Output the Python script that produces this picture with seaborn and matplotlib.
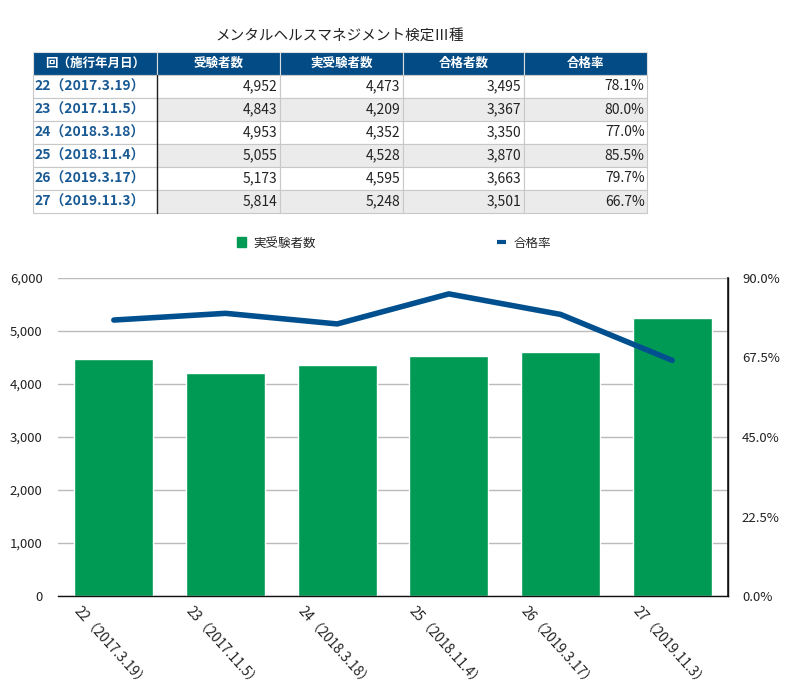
import numpy as np
import pandas as pd
import matplotlib
matplotlib.use("Agg")
import matplotlib.pyplot as plt
import matplotlib.transforms as mtransforms
from matplotlib.patches import Patch
from matplotlib.lines import Line2D
import seaborn as sns

# ---- data ----
title = "メンタルヘルスマネジメント検定Ⅲ種"
columns = ["回（施行年月日）", "受験者数", "実受験者数", "合格者数", "合格率"]
sessions = ["22（2017.3.19）", "23（2017.11.5）", "24（2018.3.18）",
            "25（2018.11.4）", "26（2019.3.17）", "27（2019.11.3）"]
xlabels = ["22（2017.3.19）", "23（2017.11.5）", "24（2018.3.18）",
           "25（2018.11.4）", "26（2019.3.17）", "27（2019.11.3）"]
applicants = [4952, 4843, 4953, 5055, 5173, 5814]
examinees = [4473, 4209, 4352, 4528, 4595, 5248]
passers = [3495, 3367, 3350, 3870, 3663, 3501]
pass_rate = [78.1, 80.0, 77.0, 85.5, 79.7, 66.7]
left_ticks = [0, 1000, 2000, 3000, 4000, 5000, 6000]
right_ticks = [0, 22.5, 45, 67.5, 90]
bar_name = "実受験者数"
line_name = "合格率"

GREEN = "#009A55"
BLUE = "#00508F"
HEADER = "#034B85"
GRAYROW = "#EBEBEB"

sns.set_theme(style="white")
plt.rcParams['font.family'] = ['Noto Sans CJK JP', 'DejaVu Sans']

W, H = 799, 697
fig = plt.figure(figsize=(W / 100, H / 100), dpi=100)

def px_axes(x0, y0, x1, y1):
    return fig.add_axes([x0 / W, 1 - y1 / H, (x1 - x0) / W, (y1 - y0) / H])

# ---- title ----
fig.text(340 / W, 1 - 36 / H, title, ha="center", va="center", fontsize=10.5, color="#222222")

# ---- table ----
tax = px_axes(33, 52, 647, 213)
tax.set_axis_off()
col_px = [124, 123, 123, 121, 123]
cell_text = []
for i in range(len(sessions)):
    cell_text.append([sessions[i], f"{applicants[i]:,}", f"{examinees[i]:,}",
                      f"{passers[i]:,}", f"{pass_rate[i]:.1f}%"])
tbl = tax.table(cellText=cell_text, colLabels=columns,
                colWidths=[c / sum(col_px) for c in col_px], bbox=[0, 0, 1, 1])
tbl.auto_set_font_size(False)
for (r, c), cell in tbl.get_celld().items():
    cell.set_linewidth(0.8)
    cell.set_edgecolor("#C8C8C8")
    txt = cell.get_text()
    txt.set_fontsize(10)
    if r == 0:
        cell.set_facecolor(HEADER)
        cell.set_edgecolor("#DDDDDD")
        txt.set_color("white")
        txt.set_fontweight("bold")
        txt.set_fontsize(9)
        cell._loc = "center"
        txt.set_ha("center")
    else:
        if c == 0:
            cell.set_facecolor("white")
            txt.set_color("#1A5A94")
            txt.set_fontweight("bold")
            txt.set_fontsize(10)
            cell._loc = "left"
            txt.set_ha("left")
            cell.PAD = 0.01
        else:
            cell.set_facecolor(GRAYROW if r % 2 == 0 else "white")
            txt.set_color("#222222")
            cell._loc = "right"
            txt.set_ha("right")
            cell.PAD = 0.02
# dark separator after first column
x_sep = col_px[0] / sum(col_px)
tax.plot([x_sep, x_sep], [0, 6 / 7], color="#222222", lw=1.0, transform=tax.transAxes, clip_on=False)

# ---- chart ----
ax = px_axes(58, 278, 728, 596)
df = pd.DataFrame({"回": xlabels, bar_name: examinees})
sns.barplot(data=df, x="回", y=bar_name, color=GREEN, saturation=1, width=0.71, ax=ax, zorder=2)
ax.set_ylim(0, 6000)
ax.set_yticks(left_ticks)
ax.set_yticklabels([f"{v:,}" for v in left_ticks])
ax.yaxis.grid(True, color="#BBBBBB", lw=1.0, zorder=0)
ax.set_axisbelow(True)
ax.set_xlabel("")
ax.set_ylabel("")
ax.set_xlim(-0.5, len(xlabels) - 0.5)
for s in ["left", "top"]:
    ax.spines[s].set_visible(False)
ax.spines["bottom"].set_color("#111111")
ax.spines["bottom"].set_linewidth(1.0)
ax.tick_params(axis="both", length=0, labelsize=9.5, colors="#222222")
ax.tick_params(axis="y", pad=11)

ax.set_xticks(range(len(xlabels)))
ax.set_xticklabels(xlabels, rotation=-48, ha="left", va="center", rotation_mode="anchor", fontsize=9.8)
offset = mtransforms.ScaledTranslation(-37 / 100, -8 / 100, fig.dpi_scale_trans)
for lab in ax.get_xticklabels():
    lab.set_transform(lab.get_transform() + offset)

ax2 = ax.twinx()
sns.lineplot(x=np.arange(len(pass_rate)), y=pass_rate, ax=ax2, color=BLUE, lw=4, zorder=3)
ax2.set_ylim(0, 90)
ax2.set_yticks(right_ticks)
ax2.set_yticklabels([f"{v:.1f}%" for v in right_ticks])
ax2.tick_params(axis="y", length=0, labelsize=9.5, colors="#222222", pad=10)
for s in ["left", "top"]:
    ax2.spines[s].set_visible(False)
ax2.spines["bottom"].set_visible(False)
ax2.spines["right"].set_color("#111111")
ax2.spines["right"].set_linewidth(1.0)
ax2.set_ylabel("")
ax2.grid(False)

# ---- legend ----
handles = [Patch(facecolor=GREEN, edgecolor=GREEN),
           Line2D([0], [0], color=BLUE, lw=3, solid_capstyle="butt")]
fig.legend(handles, [bar_name, line_name], loc="center", bbox_to_anchor=(394 / W, 1 - 243 / H),
           ncol=2, frameon=False, fontsize=9, handlelength=0.7, handleheight=0.9,
           handletextpad=0.6, columnspacing=14.5)

fig.savefig("out.png", dpi=100)
